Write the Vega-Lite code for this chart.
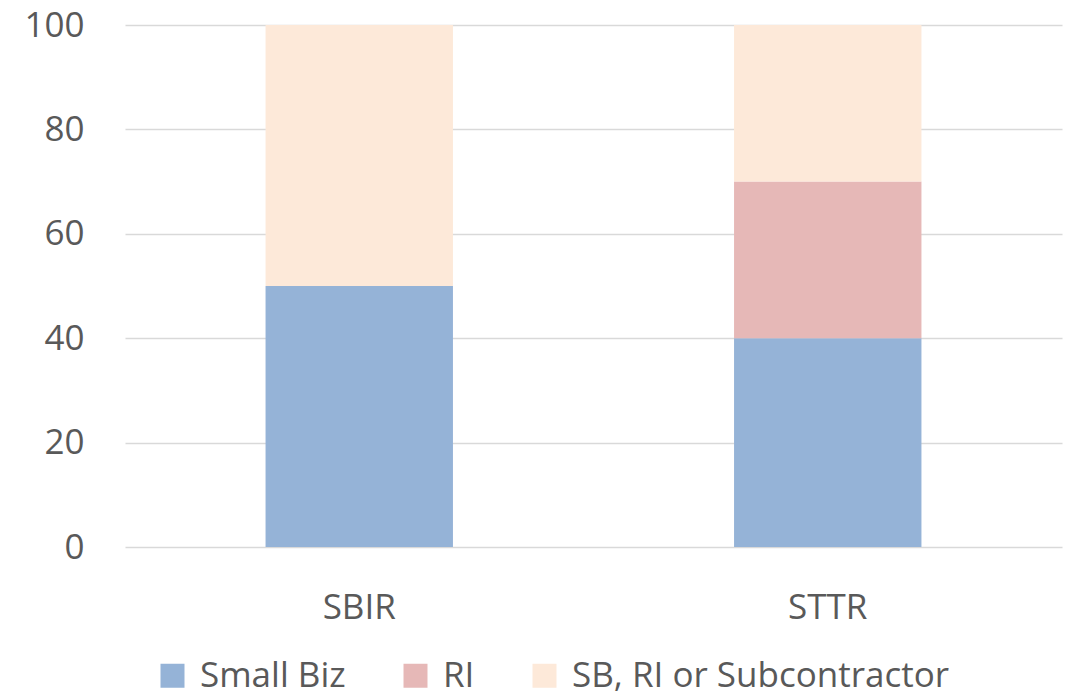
{
  "$schema": "https://vega.github.io/schema/vega-lite/v6.json",
  "width": 937,
  "height": 522,
  "autosize": "none",
  "padding": {"left": 125, "top": 25, "right": 9, "bottom": 151},
  "background": "white",
  "config": {
    "view": {"stroke": null},
    "font": "Open Sans"
  },
  "data": {
    "values": [
      {"program": "SBIR", "category": "Small Biz", "order": 1, "value": 50},
      {"program": "SBIR", "category": "RI", "order": 2, "value": 0},
      {"program": "SBIR", "category": "SB, RI or Subcontractor", "order": 3, "value": 50},
      {"program": "STTR", "category": "Small Biz", "order": 1, "value": 40},
      {"program": "STTR", "category": "RI", "order": 2, "value": 30},
      {"program": "STTR", "category": "SB, RI or Subcontractor", "order": 3, "value": 30}
    ]
  },
  "mark": {"type": "bar"},
  "encoding": {
    "x": {
      "field": "program",
      "type": "nominal",
      "sort": ["SBIR", "STTR"],
      "scale": {"paddingInner": 0.6, "paddingOuter": 0.3},
      "axis": {
        "title": null,
        "labelAngle": 0,
        "labelFontSize": 35,
        "labelColor": "#595959",
        "labelPadding": 43,
        "ticks": false,
        "domain": false
      }
    },
    "y": {
      "field": "value",
      "type": "quantitative",
      "stack": "zero",
      "scale": {"domain": [0, 100]},
      "axis": {
        "title": null,
        "values": [0, 20, 40, 60, 80, 100],
        "labelFontSize": 35,
        "labelColor": "#595959",
        "labelPadding": 41,
        "ticks": false,
        "domain": false,
        "gridColor": "#D9D9D9",
        "gridWidth": 1.5
      }
    },
    "order": {"field": "order", "type": "quantitative"},
    "color": {
      "field": "category",
      "type": "nominal",
      "sort": ["Small Biz", "RI", "SB, RI or Subcontractor"],
      "scale": {
        "domain": ["Small Biz", "RI", "SB, RI or Subcontractor"],
        "range": ["#95B3D7", "#E6B8B7", "#FDE9D9"]
      },
      "legend": {
        "title": null,
        "orient": "none",
        "direction": "horizontal",
        "legendX": 30,
        "legendY": 633,
        "symbolType": "square",
        "symbolSize": 576,
        "symbolStrokeWidth": 0,
        "labelFontSize": 35,
        "labelColor": "#595959",
        "labelOffset": 10,
        "columnPadding": 52,
        "labelLimit": 600
      }
    }
  }
}
